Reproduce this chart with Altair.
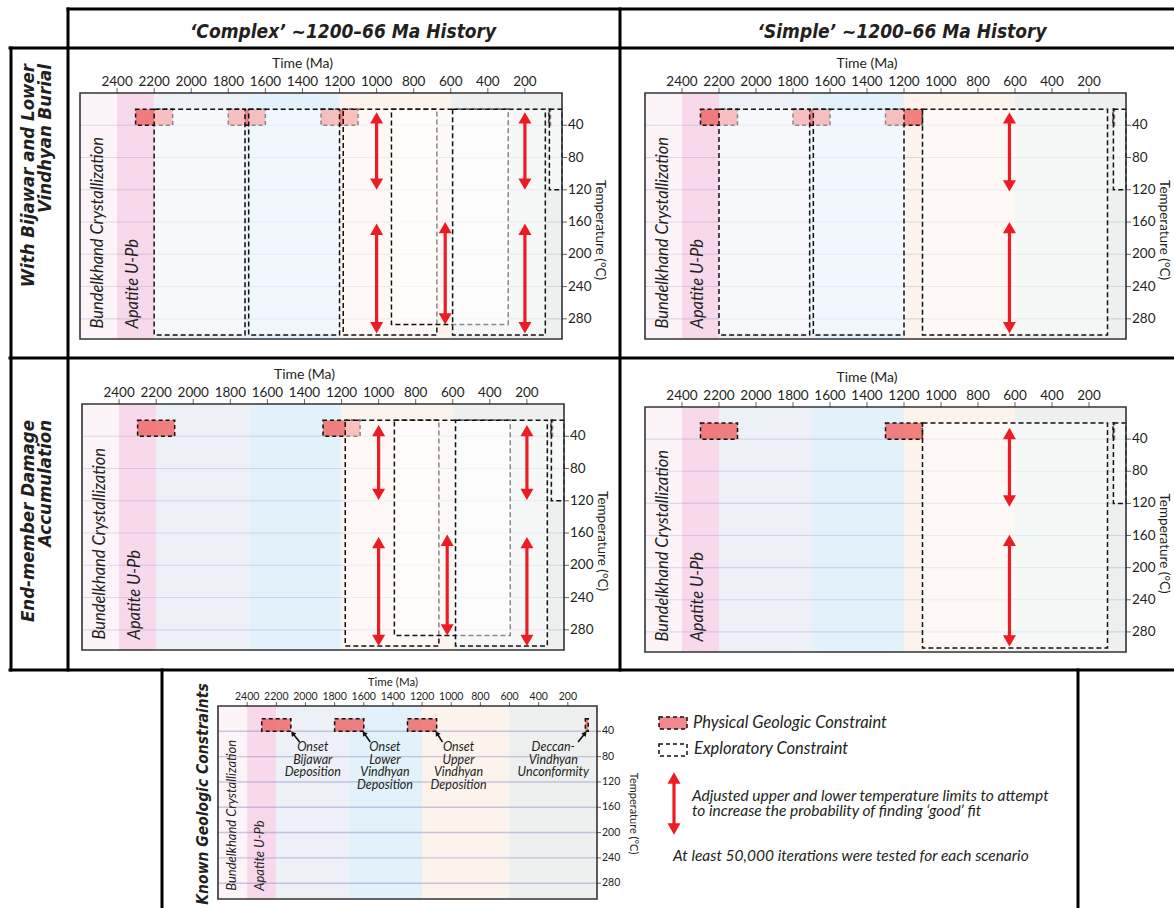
import math
import altair as alt
import pandas as pd

# ------------------------------------------------------------------ data
TIME_DOMAIN = [2600, 0]          # Ma, old -> young
TEMP_DOMAIN = [0, 305]           # degC, top -> bottom
TIME_TICKS = [2400, 2200, 2000, 1800, 1600, 1400, 1200, 1000, 800, 600, 400, 200]
TEMP_TICKS = [40, 80, 120, 160, 200, 240, 280]
TIME_TITLE_AT = 1400
TEMP_TITLE_AT = 170

# background geologic bands (Ma)
BAND_FROM = [2600, 2400, 2200, 1700, 1200, 600]
BAND_TO = [2400, 2200, 1700, 1200, 600, 0]

# physical (red) constraints: Ma range, always 20-40 degC
PHYS_LOW = 20
PHYS_HIGH = 40
EXPL_LOW = 20

# --- 'Complex' history, with Bijawar and Lower Vindhyan burial
TL_PHYS_FROM = [2300, 1800, 1300, 70]
TL_PHYS_TO = [2100, 1600, 1100, 62]
TL_EXPL_FROM = [2200, 1690, 1180, 920, 590, 68]
TL_EXPL_TO = [1710, 1200, 675, 290, 90, 0]
TL_EXPL_HIGH = [300, 300, 300, 287, 300, 120]
TL_ARROW_AT = [1000, 1000, 630, 200, 200]
TL_ARROW_LOW = [24, 162, 160, 24, 162]
TL_ARROW_HIGH = [120, 298, 287, 120, 298]

# --- 'Simple' history, with Bijawar and Lower Vindhyan burial
TR_PHYS_FROM = [2300, 1800, 1300, 70]
TR_PHYS_TO = [2100, 1600, 1100, 62]
TR_EXPL_FROM = [2200, 1690, 1100, 68]
TR_EXPL_TO = [1710, 1200, 100, 0]
TR_EXPL_HIGH = [300, 300, 300, 120]
TR_ARROW_AT = [630, 630]
TR_ARROW_LOW = [24, 160]
TR_ARROW_HIGH = [122, 298]

# --- 'Complex' history, end-member damage accumulation
BL_PHYS_FROM = [2300, 1300, 70]
BL_PHYS_TO = [2100, 1100, 62]
BL_EXPL_FROM = [1180, 915, 585, 68]
BL_EXPL_TO = [675, 290, 90, 0]
BL_EXPL_HIGH = [300, 287, 300, 120]
BL_ARROW_AT = [1000, 1000, 630, 200, 200]
BL_ARROW_LOW = [26, 165, 162, 26, 165]
BL_ARROW_HIGH = [119, 300, 287, 119, 300]

# --- 'Simple' history, end-member damage accumulation
BR_PHYS_FROM = [2300, 1300, 70]
BR_PHYS_TO = [2100, 1100, 62]
BR_EXPL_FROM = [1100, 68]
BR_EXPL_TO = [100, 0]
BR_EXPL_HIGH = [300, 120]
BR_ARROW_AT = [630, 630]
BR_ARROW_LOW = [26, 159]
BR_ARROW_HIGH = [124, 298]

# --- Known geologic constraints
KN_PHYS_FROM = [2300, 1800, 1300, 80]
KN_PHYS_TO = [2100, 1600, 1100, 60]
KN_NOTE_TIME = [1950, 1455, 950, 300]
KN_NOTE_TEMP = [55, 55, 55, 55]
KN_NOTE_TEXT = ["Onset\nBijawar\nDeposition",
                "Onset\nLower\nVindhyan\nDeposition",
                "Onset\nUpper\nVindhyan\nDeposition",
                "Deccan-\nVindhyan\nUnconformity"]
KN_PTR_FROM_TIME = [2040, 1555, 1060, 130]
KN_PTR_FROM_TEMP = [57, 57, 57, 57]
KN_PTR_TO_TIME = [2088, 1598, 1098, 82]
KN_PTR_TO_TEMP = [43, 43, 43, 43]

LABEL_TEXT = ["Bundelkhand Crystallization", "Apatite U-Pb"]
LABEL_TIME = [2505, 2312]
LABEL_TEMP = [292, 292]

# ------------------------------------------------------------------ styles
W, H = 1174, 908
FONT = "Lato"
HEAD_FONT = "Liberation Sans Narrow, DejaVu Sans Condensed, Lato"
INK = "#231f20"
RED = "#ed1c24"
BAND_COLORS = ["#fdf4fa", "#f8d8eb", "#eef0f7", "#e2f1fa", "#fdf3ed", "#edf0ef"]
PHYS_FILL = "#ee5f5c"

ONE = pd.DataFrame({"k": [0]})


def panel(geom, phys_from, phys_to, expl_from, expl_to, expl_high,
          arr_at, arr_low, arr_high, small=False):
    x0, x1, y0, y1 = geom
    xs = alt.Scale(domain=TIME_DOMAIN, range=[x0, x1], nice=False, zero=False)
    ys = alt.Scale(domain=TEMP_DOMAIN, range=[y0, y1], nice=False, zero=False)

    def X(f):
        return alt.X(f, type="quantitative", scale=xs, axis=None)

    def Y(f):
        return alt.Y(f, type="quantitative", scale=ys, axis=None)

    lab_fs = 13 if small else 16.5
    tick_fs = 10.5 if small else 13.5
    title_fs = 11 if small else 13.5
    tick_len = 4 if small else 5

    layers = []
    bands = pd.DataFrame({"a": BAND_FROM, "b": BAND_TO,
                          "lo": TEMP_DOMAIN[0], "hi": TEMP_DOMAIN[1],
                          "c": BAND_COLORS})
    layers.append(alt.Chart(bands).mark_rect().encode(
        x=X("a"), x2="b", y=Y("lo"), y2="hi",
        fill=alt.Fill("c:N", scale=None)))

    grid = pd.DataFrame({"t": TEMP_TICKS, "a": TIME_DOMAIN[0], "b": TIME_DOMAIN[1]})
    layers.append(alt.Chart(grid).mark_rule(
        color="#8c8cc0", opacity=0.45 if small else 0.28,
        strokeWidth=1.4 if small else 1.1).encode(x=X("a"), x2="b", y=Y("t")))

    labels = pd.DataFrame({"t": LABEL_TIME, "temp": LABEL_TEMP, "s": LABEL_TEXT})
    layers.append(alt.Chart(labels).mark_text(
        angle=270, align="left", baseline="middle", font=FONT,
        fontStyle="italic", fontSize=lab_fs, color=INK).encode(
        x=X("t"), y=Y("temp"), text="s:N"))

    phys = pd.DataFrame({"a": phys_from, "b": phys_to, "lo": PHYS_LOW, "hi": PHYS_HIGH})
    layers.append(alt.Chart(phys).mark_rect(
        fill=PHYS_FILL, fillOpacity=0.78, stroke="#111111",
        strokeDash=[4, 3], strokeWidth=1.5).encode(
        x=X("a"), x2="b", y=Y("lo"), y2="hi"))

    if expl_from:
        expl = pd.DataFrame({"a": expl_from, "b": expl_to, "lo": EXPL_LOW, "hi": expl_high})
        layers.append(alt.Chart(expl).mark_rect(
            fill="white", fillOpacity=0.5, stroke="#111111",
            strokeDash=[5, 3], strokeWidth=1.5).encode(
            x=X("a"), x2="b", y=Y("lo"), y2="hi"))

    if arr_at:
        arr = pd.DataFrame({"t": arr_at, "lo": arr_low, "hi": arr_high})
        layers.append(alt.Chart(arr).mark_rule(
            color=RED, strokeWidth=3.2, yOffset=6, y2Offset=-6).encode(
            x=X("t"), y=Y("lo"), y2="hi"))
        layers.append(alt.Chart(arr).mark_point(
            shape="triangle-up", filled=True, size=170, color=RED, opacity=1,
            yOffset=5.6).encode(x=X("t"), y=Y("lo")))
        layers.append(alt.Chart(arr).mark_point(
            shape="triangle-down", filled=True, size=170, color=RED, opacity=1,
            yOffset=-5.6).encode(x=X("t"), y=Y("hi")))

    if small:
        notes = pd.DataFrame({"t": KN_NOTE_TIME, "temp": KN_NOTE_TEMP, "s": KN_NOTE_TEXT})
        layers.append(alt.Chart(notes).mark_text(
            lineBreak="\n", align="center", baseline="top", font=FONT,
            fontStyle="italic", fontSize=12.5, lineHeight=12.8, color=INK).encode(
            x=X("t"), y=Y("temp"), text="s:N"))
        kx = (x1 - x0) / (TIME_DOMAIN[0] - TIME_DOMAIN[1])
        ky = (y1 - y0) / (TEMP_DOMAIN[1] - TEMP_DOMAIN[0])
        angs = []
        for a, lo, b, hi in zip(KN_PTR_FROM_TIME, KN_PTR_FROM_TEMP, KN_PTR_TO_TIME, KN_PTR_TO_TEMP):
            dx = -(b - a) * kx
            dy = (hi - lo) * ky
            angs.append(math.degrees(math.atan2(dx, -dy)) % 360)
        ptr = pd.DataFrame({"a": KN_PTR_FROM_TIME, "lo": KN_PTR_FROM_TEMP,
                            "b": KN_PTR_TO_TIME, "hi": KN_PTR_TO_TEMP, "ang": angs})
        layers.append(alt.Chart(ptr).mark_rule(color="#111111", strokeWidth=1.6).encode(
            x=X("a"), y=Y("lo"), x2="b", y2="hi"))
        layers.append(alt.Chart(ptr).mark_point(
            shape="triangle-up", filled=True, size=32, color="#111111", opacity=1).encode(
            x=X("b"), y=Y("hi"), angle=alt.Angle("ang:Q", scale=None)))

    # frame
    frame = pd.DataFrame({"a": [TIME_DOMAIN[0]], "b": [TIME_DOMAIN[1]],
                          "lo": [TEMP_DOMAIN[0]], "hi": [TEMP_DOMAIN[1]]})
    layers.append(alt.Chart(frame).mark_rect(
        fillOpacity=0, fill="white", stroke="#333333", strokeWidth=1.6).encode(
        x=X("a"), x2="b", y=Y("lo"), y2="hi"))

    # time axis (top)
    tx = pd.DataFrame({"t": TIME_TICKS, "edge": TEMP_DOMAIN[0]})
    layers.append(alt.Chart(tx).mark_tick(
        orient="vertical", size=tick_len, thickness=1, color="#222222",
        yOffset=-tick_len / 2).encode(x=X("t"), y=Y("edge")))
    layers.append(alt.Chart(tx).mark_text(
        baseline="middle", align="center", font=FONT, fontSize=tick_fs, color=INK,
        dy=-9 if small else -11).encode(
        x=X("t"), y=Y("edge"), text=alt.Text("t:Q", format="d")))
    ttl = pd.DataFrame({"t": [TIME_TITLE_AT], "edge": [TEMP_DOMAIN[0]], "s": ["Time (Ma)"]})
    layers.append(alt.Chart(ttl).mark_text(
        baseline="middle", align="center", font=FONT, fontSize=title_fs + 0.5, color=INK,
        dy=-23 if small else -29).encode(x=X("t"), y=Y("edge"), text="s:N"))

    # temperature axis (right)
    ty = pd.DataFrame({"t": TEMP_TICKS, "edge": TIME_DOMAIN[1]})
    layers.append(alt.Chart(ty).mark_tick(
        orient="horizontal", size=tick_len, thickness=1, color="#222222",
        xOffset=tick_len / 2).encode(x=X("edge"), y=Y("t")))
    layers.append(alt.Chart(ty).mark_text(
        baseline="middle", align="left", font=FONT, fontSize=tick_fs, color=INK,
        dx=tick_len + 1).encode(x=X("edge"), y=Y("t"), text=alt.Text("t:Q", format="d")))
    tty = pd.DataFrame({"edge": [TIME_DOMAIN[1]], "t": [TEMP_TITLE_AT], "s": ["Temperature (°C)"]})
    layers.append(alt.Chart(tty).mark_text(
        angle=90, baseline="bottom", align="center", font=FONT, fontSize=title_fs,
        color=INK, xOffset=31).encode(x=X("edge"), y=Y("t"), text="s:N"))
    return alt.layer(*layers)


panels = [
    panel((80, 562, 93, 339), TL_PHYS_FROM, TL_PHYS_TO, TL_EXPL_FROM, TL_EXPL_TO,
          TL_EXPL_HIGH, TL_ARROW_AT, TL_ARROW_LOW, TL_ARROW_HIGH),
    panel((645, 1126, 93, 339), TR_PHYS_FROM, TR_PHYS_TO, TR_EXPL_FROM, TR_EXPL_TO,
          TR_EXPL_HIGH, TR_ARROW_AT, TR_ARROW_LOW, TR_ARROW_HIGH),
    panel((82, 564, 404, 650), BL_PHYS_FROM, BL_PHYS_TO, BL_EXPL_FROM, BL_EXPL_TO,
          BL_EXPL_HIGH, BL_ARROW_AT, BL_ARROW_LOW, BL_ARROW_HIGH),
    panel((645, 1126, 407, 652), BR_PHYS_FROM, BR_PHYS_TO, BR_EXPL_FROM, BR_EXPL_TO,
          BR_EXPL_HIGH, BR_ARROW_AT, BR_ARROW_LOW, BR_ARROW_HIGH),
    panel((218, 597, 706, 899), KN_PHYS_FROM, KN_PHYS_TO, [], [], [],
          [], [], [], small=True),
]

# ------------------------------------------------------------------ figure frame & text
deco = []
SEGMENTS = [  # (x1, y1, x2, y2) layout lines of the figure grid
    (68, 9, 1174, 9), (10, 48, 1174, 48), (10, 358, 1174, 358), (10, 670, 1174, 670),
    (68, 9, 68, 670), (620, 9, 620, 670), (11, 48, 11, 670),
    (162, 670, 162, 908), (1078, 670, 1078, 908),
]
for (ax, ay, bx, by) in SEGMENTS:
    deco.append(alt.Chart(ONE).mark_rule(color="black", strokeWidth=3, strokeCap="square").encode(
        x=alt.value(ax), y=alt.value(ay), x2=alt.value(bx), y2=alt.value(by)))


def label(text, x, y, **kw):
    props = dict(font=HEAD_FONT, fontWeight="bold", fontStyle="italic", color=INK, text=text)
    props.update(kw)
    return alt.Chart(ONE).mark_text(**props).encode(x=alt.value(x), y=alt.value(y))


deco.append(label("\u2018Complex\u2019 ~1200\u201366 Ma History", 343, 32, fontSize=19,
                  align="center", baseline="middle"))
deco.append(label("\u2018Simple\u2019 ~1200\u201366 Ma History", 902, 32, fontSize=19,
                  align="center", baseline="middle"))
deco.append(label("With Bijawar and Lower\nVindhyan Burial", 19, 64, fontSize=18.5, angle=270,
                  align="right", baseline="top", lineBreak="\n", lineHeight=17))
deco.append(label("End-member Damage\nAccumulation", 19, 420, fontSize=18.5, angle=270,
                  align="right", baseline="top", lineBreak="\n", lineHeight=17))
deco.append(label("Known Geologic Constraints", 203, 794, fontSize=15.5, angle=270,
                  align="center", baseline="middle"))

# legend
deco.append(alt.Chart(ONE).mark_rect(fill="#f4868e", stroke="#111111", strokeDash=[4, 3],
                                      strokeWidth=1.5).encode(
    x=alt.value(659), x2=alt.value(687), y=alt.value(717), y2=alt.value(729)))
deco.append(alt.Chart(ONE).mark_rect(fill="white", stroke="#111111", strokeDash=[4, 3],
                                      strokeWidth=1.5).encode(
    x=alt.value(659), x2=alt.value(687), y=alt.value(744), y2=alt.value(756)))
deco.append(alt.Chart(ONE).mark_rule(color=RED, strokeWidth=3.2).encode(
    x=alt.value(674), y=alt.value(778), y2=alt.value(829)))
deco.append(alt.Chart(ONE).mark_point(shape="triangle-up", filled=True, size=170, color=RED,
                                       opacity=1).encode(x=alt.value(674), y=alt.value(778)))
deco.append(alt.Chart(ONE).mark_point(shape="triangle-down", filled=True, size=170, color=RED,
                                       opacity=1).encode(x=alt.value(674), y=alt.value(829)))
leg_kw = dict(font=FONT, fontWeight="normal", fontStyle="italic", align="left")
deco.append(label("Physical Geologic Constraint", 693, 723, fontSize=16.5, baseline="middle", **leg_kw))
deco.append(label("Exploratory Constraint", 694, 749, fontSize=16.5, baseline="middle", **leg_kw))
deco.append(label("Adjusted upper and lower temperature limits to attempt\n"
                  "to increase the probability of finding \u2018good\u2019 fit",
                  692, 789, fontSize=15.5, baseline="top", lineBreak="\n", lineHeight=15, **leg_kw))
deco.append(label("At least 50,000 iterations were tested for each scenario", 673, 856,
                  fontSize=15.5, baseline="middle", **leg_kw))

chart = alt.layer(*panels, *deco).resolve_scale(
    x="independent", y="independent"
).properties(
    width=W, height=H, padding=0, autosize=alt.AutoSizeParams(type="none")
).configure_view(stroke=None)

chart.save("out.html", embed_options={"renderer": "svg", "actions": False})
